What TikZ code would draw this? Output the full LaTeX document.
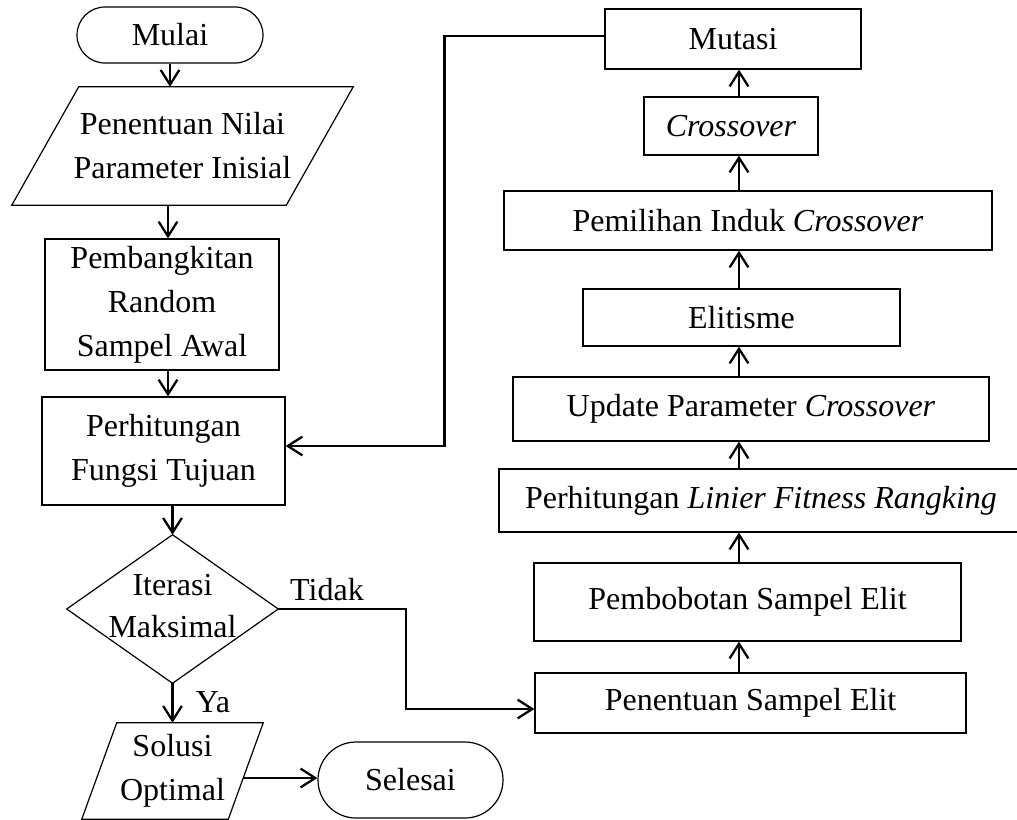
\documentclass[tikz,border=0pt]{standalone}
\usepackage{fontspec}
\setmainfont{Liberation Serif}
\usetikzlibrary{arrows.meta}

\begin{document}
\begin{tikzpicture}[x=0.75pt,y=0.75pt,yscale=-1,xscale=1,
  every node/.style={font=\fontsize{24}{33}\selectfont, align=center, inner sep=0pt},
  proses/.style={draw, line width=0.9pt, rectangle},
  terminal/.style={draw, line width=0.9pt, rectangle, rounded corners=#1},
  bentuk/.style={rectangle},
  garis/.style={line width=0.9pt, line join=miter},
  panah/.style={line width=1.7pt, -{Straight Barb[length=11pt,width=14pt]}}
]
\useasboundingbox (0,0) rectangle (1017,819);
% Text Node
\node [terminal=21pt, minimum width=139.5pt, minimum height=42pt] (mulai) at (170,35) {Mulai};
% Text Node
\node [bentuk, minimum width=255.75pt, minimum height=88.5pt] (param) at (182.5,146) {Penentuan Nilai\\Parameter Inisial};
\draw [garis] ([xshift=50.25pt]param.north west) -- (param.north east) -- ([xshift=-50.25pt]param.south east) -- (param.south west) -- cycle;
% Text Node
\node [proses, minimum width=175.5pt, minimum height=98.25pt] (acak) at (162,304.5) {Pembangkitan\\Random\\Sampel Awal};
% Text Node
\node [proses, minimum width=182.25pt, minimum height=81pt] (hitung) at (163.5,451) {Perhitungan\\Fungsi Tujuan};
% Text Node
\node [bentuk, minimum width=158.25pt, minimum height=111pt, font=\fontsize{24}{31.5}\selectfont] (iter) at (172.5,606) {Iterasi\\Maksimal};
\draw [garis] ([yshift=2.25pt]iter.north) -- ([yshift=2.25pt]iter.east) -- ([yshift=2.25pt]iter.south) -- ([yshift=2.25pt]iter.west) -- cycle;
% Text Node
\node [bentuk, minimum width=135.75pt, minimum height=72pt] (solusi) at (172.5,771) {Solusi\\Optimal};
\draw [garis] ([xshift=26.25pt]solusi.north west) -- (solusi.north east) -- ([xshift=-26.25pt]solusi.south east) -- (solusi.south west) -- cycle;
% Text Node
\node [terminal=28.5pt, minimum width=138.75pt, minimum height=57pt] (selesai) at (410.5,780) {Selesai};

% Text Node
\node [proses, minimum width=192pt, minimum height=45pt] (mutasi) at (733,39) {Mutasi};
% Text Node
\node [proses, minimum width=130.5pt, minimum height=43.5pt] (cross) at (731,126) {\textit{Crossover}};
% Text Node
\node [proses, minimum width=366pt, minimum height=44.25pt] (induk) at (748,220.5) {Pemilihan Induk \textit{Crossover}};
% Text Node
\node [proses, minimum width=237.75pt, minimum height=42.75pt] (elit) at (741.5,317.5) {Elitisme};
% Text Node
\node [proses, minimum width=357pt, minimum height=48pt] (update) at (751,409) {Update Parameter \textit{Crossover}};
% Text Node
\node [proses, minimum width=393pt, minimum height=47.25pt] (linier) at (761,500.5) {Perhitungan \textit{Linier Fitness Rangking}};
% Text Node
\node [proses, minimum width=320.25pt, minimum height=58.5pt] (bobot) at (747.5,602) {Pembobotan Sampel Elit};
% Text Node
\node [proses, minimum width=323.25pt, minimum height=45pt] (sampel) at (750.5,703) {Penentuan Sampel Elit};

% Text Node
\node (tidak) at (327,590) {Tidak};
% Text Node
\node (ya) at (213,702) {Ya};

%Straight Lines
\draw [panah] (mulai.south) -- (mulai.south |- param.north);
\draw [panah] ([xshift=4.5pt]param.south -| acak.north) -- ([xshift=4.5pt]acak.north);
\draw [panah] ([xshift=4.5pt]acak.south) -- ([xshift=4.5pt]acak.south |- hitung.north);
\draw [panah] (hitung.south -| iter.north) -- ([yshift=2.25pt]iter.north);
\draw [panah] ([yshift=2.25pt]iter.south) -- (iter.south |- solusi.north);
\draw [panah, shorten <=-15.5pt] ([yshift=-1.5pt]selesai.west -| solusi.east) -- ([yshift=-1.5pt]selesai.west);
\draw [panah] ([yshift=2.25pt]iter.east) -- ++(128,0) |- ([yshift=4.5pt]sampel.west);
\draw [panah] ([yshift=-2.25pt]mutasi.west) -- ++(-160,0) |- ([yshift=-3.75pt]hitung.east);
%Straight Lines
\coordinate (ax) at (739,0);
\draw [panah] (ax |- sampel.north) -- (ax |- bobot.south);
\draw [panah] (ax |- bobot.north) -- (ax |- linier.south);
\draw [panah] (ax |- linier.north) -- (ax |- update.south);
\draw [panah] (ax |- update.north) -- (ax |- elit.south);
\draw [panah] (ax |- elit.north) -- (ax |- induk.south);
\draw [panah] (ax |- induk.north) -- (ax |- cross.south);
\draw [panah] (ax |- cross.north) -- (ax |- mutasi.south);
\end{tikzpicture}
\end{document}
